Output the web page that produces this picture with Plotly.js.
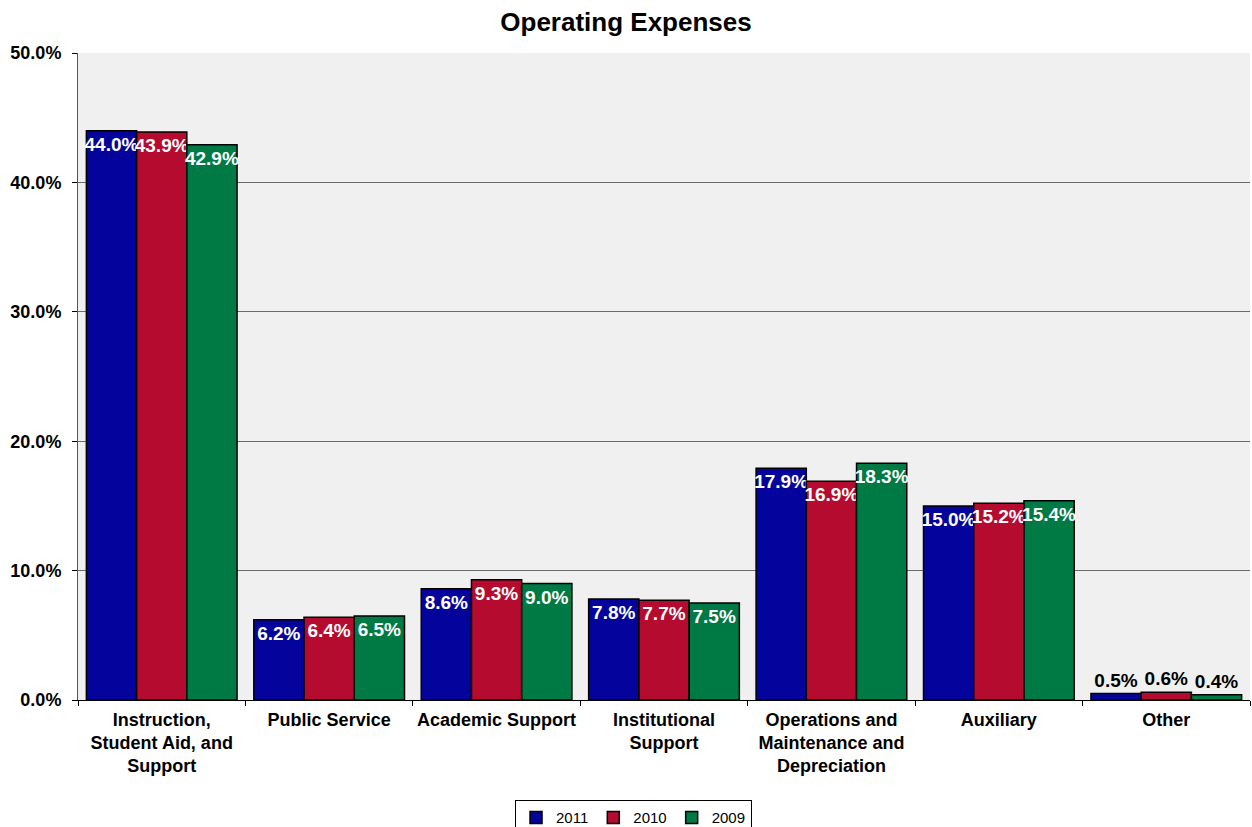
<!DOCTYPE html>
<html>
<head>
<meta charset="utf-8">
<script src="https://cdn.plot.ly/plotly-3.0.1.min.js"></script>
<style>
  html, body { margin: 0; padding: 0; background: #ffffff; }
  #chart { width: 1252px; height: 827px; }
</style>
</head>
<body>
<div id="chart"></div>
<script>
const categories = [
  "Instruction,<br>Student Aid, and<br>Support",
  "Public Service",
  "Academic Support",
  "Institutional<br>Support",
  "Operations and<br>Maintenance and<br>Depreciation",
  "Auxiliary",
  "Other"
];
const seriesNames = ["2011", "2010", "2009"];
const values2011 = [44.0, 6.2, 8.6, 7.8, 17.9, 15.0, 0.5];
const values2010 = [43.9, 6.4, 9.3, 7.7, 16.9, 15.2, 0.6];
const values2009 = [42.9, 6.5, 9.0, 7.5, 18.3, 15.4, 0.4];
const yTickVals = [0, 10, 20, 30, 40, 50];
const yTickText = ["0.0%", "10.0%", "20.0%", "30.0%", "40.0%", "50.0%"];

const colors = ["#04049c", "#b40b2f", "#007a44"];
const FONT = "Arial, 'Liberation Sans', sans-serif";

const allValues = [values2011, values2010, values2009];
const traces = allValues.map((vals, i) => ({
  type: "bar",
  name: seriesNames[i],
  x: categories,
  y: vals,
  text: vals.map(v => v.toFixed(1) + "%"),
  textposition: vals.map(v => v >= 3 ? "inside" : "outside"),
  insidetextanchor: "end",
  textangle: 0,
  constraintext: "none",
  cliponaxis: false,
  insidetextfont: { family: FONT, size: 19, color: "#ffffff", weight: "bold" },
  outsidetextfont: { family: FONT, size: 19, color: "#000000", weight: "bold" },
  marker: { color: colors[i], line: { color: "#000000", width: 1.5 } },
  hoverinfo: "skip"
}));

const layout = {
  width: 1252,
  height: 827,
  margin: { l: 78, r: 2, t: 53, b: 127, autoexpand: false },
  paper_bgcolor: "#ffffff",
  plot_bgcolor: "#f0f0f0",
  barmode: "group",
  bargap: 0.1,
  bargroupgap: 0,
  font: { family: FONT, color: "#000000" },
  title: {
    text: "<b>Operating Expenses</b>",
    font: { family: FONT, size: 26, color: "#000000" },
    x: 0.5, xref: "container", xanchor: "center",
    y: 0.974, yref: "container", yanchor: "middle"
  },
  xaxis: {
    type: "category",
    automargin: false,
    tickangle: 0,
    tickson: "boundaries",
    ticks: "outside",
    ticklen: 5,
    tickcolor: "#000000",
    ticklabelstandoff: 3,
    showline: true,
    linecolor: "#000000",
    linewidth: 1,
    showgrid: false,
    tickfont: { family: FONT, size: 18, color: "#000000", weight: "bold" },
    fixedrange: true
  },
  yaxis: {
    range: [0, 50],
    automargin: false,
    tickvals: yTickVals,
    ticktext: yTickText,
    ticks: "outside",
    ticklen: 5,
    tickcolor: "#000000",
    ticklabelstandoff: 7,
    showline: true,
    linecolor: "#555555",
    linewidth: 1,
    showgrid: true,
    gridcolor: "#6a6a6a",
    gridwidth: 1,
    zeroline: false,
    tickfont: { family: FONT, size: 18, color: "#000000", weight: "bold" },
    fixedrange: true
  },
  showlegend: true,
  legend: {
    orientation: "h",
    x: 0.474, xanchor: "center",
    y: -0.155, yanchor: "top",
    bordercolor: "#000000",
    borderwidth: 1,
    bgcolor: "#ffffff",
    font: { family: FONT, size: 15, color: "#000000" },
    itemwidth: 30,
    tracegroupgap: 0
  }
};

Plotly.newPlot("chart", traces, layout, { displayModeBar: false, staticPlot: true });
</script>
</body>
</html>
